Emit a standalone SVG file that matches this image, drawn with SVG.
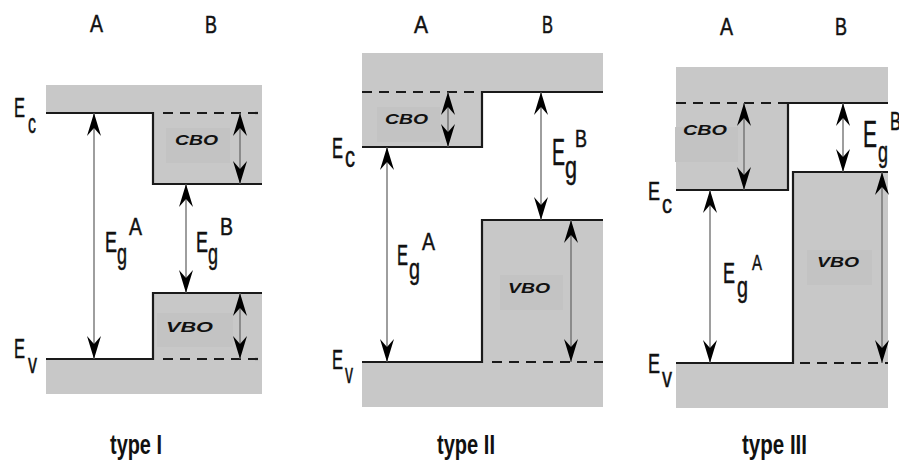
<svg xmlns="http://www.w3.org/2000/svg" width="899" height="464" viewBox="0 0 899 464">
<style>
.band{fill:#c8c8c8}
.box{fill:#c3c3c3}
.ln{fill:none;stroke:#1a1a1a;stroke-width:2.2}
.dash{fill:none;stroke:#1a1a1a;stroke-width:2.2;stroke-dasharray:10 7}
.arr{fill:none;stroke:#6a6a6a;stroke-width:1.3;marker-start:url(#ah);marker-end:url(#ah)}
.t{font-family:"Liberation Sans",Arial,sans-serif;fill:#111;stroke:#111;stroke-width:0.5}
.off{font-family:"Liberation Sans",Arial,sans-serif;font-weight:bold;font-style:italic;font-size:14px;fill:#111}
.ty{font-family:"Liberation Sans",Arial,sans-serif;font-weight:bold;font-size:27px;fill:#111}
</style>
<defs>
<marker id="ah" markerUnits="userSpaceOnUse" markerWidth="30" markerHeight="20" viewBox="-24 -10 30 20" refX="0" refY="0" orient="auto-start-reverse">
<path d="M0,0 L-23,-7 L-15,0 L-23,7 Z" fill="#000"/>
</marker>
</defs>

<g id="type1">
<g id="t1-regions">
<rect class="band" x="46" y="85" width="216" height="28"/>
<rect class="band" x="153" y="113" width="109" height="71"/>
<rect class="band" x="153" y="293" width="109" height="66"/>
<rect class="band" x="46" y="359" width="216" height="35"/>
<rect class="box" x="166" y="128" width="64" height="35"/>
<rect class="box" x="157" y="313" width="76" height="34"/>
</g>
<g id="t1-lines">
<path class="ln" d="M46,113 H153 V184 H262"/>
<path class="dash" d="M163,113 H262"/>
<path class="ln" d="M46,359 H153 V293 H262"/>
<path class="dash" d="M163,359 H262"/>
</g>
<g id="t1-labels">
<text class="t" x="90" y="32" font-size="24" textLength="13" lengthAdjust="spacingAndGlyphs">A</text>
<text class="t" x="205" y="33" font-size="24" textLength="12" lengthAdjust="spacingAndGlyphs">B</text>
<text class="t" font-size="28"><tspan x="14" y="117" textLength="11" lengthAdjust="spacingAndGlyphs">E</tspan><tspan x="28" y="133" textLength="8" lengthAdjust="spacingAndGlyphs">c</tspan></text>
<text class="t" font-size="28"><tspan x="14" y="358" textLength="11" lengthAdjust="spacingAndGlyphs">E</tspan><tspan x="28" y="373" textLength="9" lengthAdjust="spacingAndGlyphs">v</tspan></text>
<text class="t" font-size="30"><tspan x="105" y="252" textLength="12" lengthAdjust="spacingAndGlyphs">E</tspan><tspan x="117" y="264" textLength="10" lengthAdjust="spacingAndGlyphs">g</tspan><tspan x="129" y="235" font-size="24" textLength="13" lengthAdjust="spacingAndGlyphs">A</tspan></text>
<text class="t" font-size="30"><tspan x="196" y="252" textLength="12" lengthAdjust="spacingAndGlyphs">E</tspan><tspan x="208" y="264" textLength="10" lengthAdjust="spacingAndGlyphs">g</tspan><tspan x="220" y="235" font-size="24" textLength="13" lengthAdjust="spacingAndGlyphs">B</tspan></text>
<text class="off" x="175" y="145" textLength="43" lengthAdjust="spacingAndGlyphs">CBO</text>
<text class="off" x="166" y="332" textLength="47" lengthAdjust="spacingAndGlyphs">VBO</text>
<text class="ty" x="110" y="454" textLength="52" lengthAdjust="spacingAndGlyphs">type I</text>
</g>
</g>

<g id="type2">
<g id="t2-regions">
<rect class="band" x="362" y="53" width="241" height="39"/>
<rect class="band" x="362" y="92" width="120" height="55"/>
<rect class="band" x="482" y="220" width="121" height="142"/>
<rect class="band" x="362" y="362" width="241" height="45"/>
<rect class="box" x="377" y="107" width="63" height="35"/>
<rect class="box" x="500" y="275" width="63" height="35"/>
</g>
<g id="t2-lines">
<path class="dash" d="M362,92 H478"/>
<path class="ln" d="M362,147 H482 V92 H603"/>
<path class="ln" d="M362,362 H482 V220 H603"/>
<path class="dash" d="M492,362 H603"/>
</g>
<g id="t2-labels">
<text class="t" x="414" y="33" font-size="24" textLength="14" lengthAdjust="spacingAndGlyphs">A</text>
<text class="t" x="542" y="33" font-size="24" textLength="11" lengthAdjust="spacingAndGlyphs">B</text>
<text class="t" font-size="29"><tspan x="332" y="158" textLength="11" lengthAdjust="spacingAndGlyphs">E</tspan><tspan x="345" y="167" textLength="10" lengthAdjust="spacingAndGlyphs">c</tspan></text>
<text class="t" font-size="28"><tspan x="332" y="369" textLength="11" lengthAdjust="spacingAndGlyphs">E</tspan><tspan x="345" y="383" textLength="8" lengthAdjust="spacingAndGlyphs">v</tspan></text>
<text class="t" font-size="30"><tspan x="397" y="265" textLength="11" lengthAdjust="spacingAndGlyphs">E</tspan><tspan x="409" y="279" textLength="11" lengthAdjust="spacingAndGlyphs">g</tspan><tspan x="422" y="250" font-size="24" textLength="13" lengthAdjust="spacingAndGlyphs">A</tspan></text>
<text class="t" font-size="37"><tspan x="552" y="165" textLength="13" lengthAdjust="spacingAndGlyphs">E</tspan><tspan x="565" y="178" font-size="32" textLength="12" lengthAdjust="spacingAndGlyphs">g</tspan><tspan x="575" y="147" font-size="24" textLength="12" lengthAdjust="spacingAndGlyphs">B</tspan></text>
<text class="off" x="385" y="124" textLength="43" lengthAdjust="spacingAndGlyphs">CBO</text>
<text class="off" x="508" y="293" textLength="42" lengthAdjust="spacingAndGlyphs">VBO</text>
<text class="ty" x="437" y="454" textLength="58" lengthAdjust="spacingAndGlyphs">type II</text>
</g>
</g>

<g id="type3">
<g id="t3-regions">
<rect class="band" x="676" y="67" width="212" height="36"/>
<rect class="band" x="676" y="103" width="112" height="87"/>
<rect class="band" x="793" y="172" width="95" height="191"/>
<rect class="band" x="676" y="363" width="212" height="45"/>
<rect class="box" x="675" y="127" width="63" height="35"/>
<rect class="box" x="807" y="250" width="65" height="35"/>
</g>
<g id="t3-lines">
<path class="dash" d="M676,103 H788"/>
<path class="ln" d="M676,190 H788 V103 H888"/>
<path class="ln" d="M676,363 H793 V172 H888"/>
<path class="dash" d="M800,363 H888"/>
</g>
<g id="t3-labels">
<text class="t" x="720" y="35" font-size="24" textLength="13" lengthAdjust="spacingAndGlyphs">A</text>
<text class="t" x="835" y="35" font-size="24" textLength="12" lengthAdjust="spacingAndGlyphs">B</text>
<text class="t" font-size="26"><tspan x="648" y="200" textLength="12" lengthAdjust="spacingAndGlyphs">E</tspan><tspan x="662" y="213" textLength="10" lengthAdjust="spacingAndGlyphs">c</tspan></text>
<text class="t" font-size="28"><tspan x="648" y="373" textLength="12" lengthAdjust="spacingAndGlyphs">E</tspan><tspan x="662" y="387" textLength="10" lengthAdjust="spacingAndGlyphs">v</tspan></text>
<text class="t" font-size="29"><tspan x="723" y="283" textLength="12" lengthAdjust="spacingAndGlyphs">E</tspan><tspan x="737" y="297" textLength="11" lengthAdjust="spacingAndGlyphs">g</tspan><tspan x="752" y="270" font-size="22" textLength="10" lengthAdjust="spacingAndGlyphs">A</tspan></text>
<text class="t" font-size="36"><tspan x="863" y="147" textLength="14" lengthAdjust="spacingAndGlyphs">E</tspan><tspan x="878" y="162" font-size="30" textLength="10" lengthAdjust="spacingAndGlyphs">g</tspan><tspan x="890" y="130" font-size="26" textLength="11" lengthAdjust="spacingAndGlyphs">B</tspan></text>
<text class="off" x="683" y="135" textLength="44" lengthAdjust="spacingAndGlyphs">CBO</text>
<text class="off" x="817" y="267" textLength="42" lengthAdjust="spacingAndGlyphs">VBO</text>
<text class="ty" x="742" y="454" textLength="65" lengthAdjust="spacingAndGlyphs">type III</text>
</g>
</g>

<g id="connectors">
<path class="arr" d="M94,113 V359"/>
<path class="arr" d="M186,184 V293"/>
<path class="arr" d="M240,113 V184"/>
<path class="arr" d="M240,293 V359"/>
<path class="arr" d="M448,92 V147"/>
<path class="arr" d="M541,92 V220"/>
<path class="arr" d="M387,147 V362"/>
<path class="arr" d="M571,220 V362"/>
<path class="arr" d="M744,103 V190"/>
<path class="arr" d="M843,103 V172"/>
<path class="arr" d="M710,190 V363"/>
<path class="arr" d="M882,172 V363"/>
</g>
</svg>
